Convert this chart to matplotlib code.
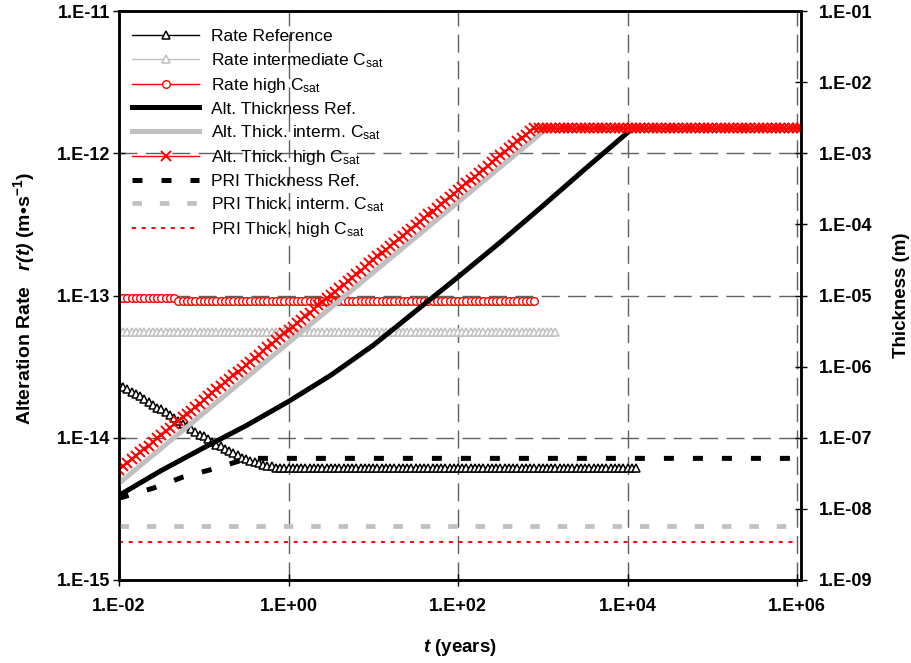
import numpy as np
import matplotlib
matplotlib.use("Agg")
import matplotlib.pyplot as plt
from matplotlib.ticker import FixedLocator, FuncFormatter, NullLocator

plt.rcParams['font.family'] = ['Liberation Sans', 'DejaVu Sans']
plt.rcParams['mathtext.fontset'] = 'custom'
plt.rcParams['mathtext.rm'] = 'Liberation Sans'
plt.rcParams['mathtext.it'] = 'Liberation Sans:italic'
plt.rcParams['mathtext.bf'] = 'Liberation Sans:bold'
plt.rcParams['mathtext.bfit'] = 'Liberation Sans:bold:italic'
plt.rcParams['mathtext.default'] = 'regular'

# output times, log10(years): 0.05 decade steps from 1E-02 to 1E+06, plus the right edge
LOG_T = list(np.round(np.arange(161) * 0.05 - 2.0, 2)) + [6.05]

# alteration rates, log10(m/s)
rate_ref = [-13.62, -13.64, -13.66, -13.68, -13.69, -13.71, -13.73, -13.75, -13.77, -13.79,
            -13.80, -13.82, -13.84, -13.86, -13.88, -13.90, -13.92, -13.94, -13.96, -13.98,
            -13.99, -14.01, -14.03, -14.05, -14.06, -14.08, -14.09, -14.11, -14.12, -14.14,
            -14.15, -14.16, -14.17, -14.18, -14.19, -14.20, -14.20, -14.21, -14.21, -14.21] + [-14.21] * 83
rate_int = [-13.26] * 104
rate_high = [-13.02] * 14 + [-13.04] * 85

# altered thickness, log10(m)
alt_high = [-7.45, -7.40, -7.35, -7.30, -7.25, -7.20, -7.16, -7.11, -7.06, -7.01,
            -6.96, -6.91, -6.86, -6.81, -6.76, -6.71, -6.66, -6.62, -6.57, -6.52,
            -6.47, -6.42, -6.37, -6.32, -6.27, -6.22, -6.17, -6.12, -6.07, -6.03,
            -5.98, -5.93, -5.88, -5.83, -5.78, -5.73, -5.68, -5.63, -5.58, -5.53,
            -5.49, -5.44, -5.39, -5.34, -5.29, -5.24, -5.19, -5.14, -5.09, -5.04,
            -4.99, -4.95, -4.90, -4.85, -4.80, -4.75, -4.70, -4.65, -4.60, -4.55,
            -4.50, -4.45, -4.40, -4.36, -4.31, -4.26, -4.21, -4.16, -4.11, -4.06,
            -4.01, -3.96, -3.91, -3.86, -3.82, -3.77, -3.72, -3.67, -3.62, -3.57,
            -3.52, -3.47, -3.42, -3.37, -3.33, -3.28, -3.23, -3.18, -3.13, -3.08,
            -3.03, -2.98, -2.93, -2.88, -2.83, -2.79, -2.74, -2.69, -2.65] + [-2.65] * 63

alt_int_t = [-2.0, 3.05, 6.05]
alt_int = [-7.64, -2.65, -2.65]

alt_ref_t = [-2.0, -1.5, -1.0, -0.5, 0.0, 0.5, 1.0, 1.5, 2.0, 2.5, 3.0, 3.5, 4.0, 4.06, 6.05]
alt_ref = [-7.81, -7.46, -7.14, -6.83, -6.49, -6.12, -5.70, -5.22, -4.74, -4.25, -3.74, -3.22, -2.71, -2.65, -2.65]

pri_ref_t = [-2.0, -1.6, -1.24, -0.89, -0.48, 6.05]
pri_ref = [-7.85, -7.71, -7.55, -7.44, -7.29, -7.29]
pri_int_t = [-2.0, 6.0]
pri_int = [-8.24, -8.24]
pri_high_t = [-2.0, 6.0]
pri_high = [-8.47, -8.47]

GRAY = '#C0C0C0'
RED = '#FF0000'


def p10(vals):
    return 10 ** np.asarray(vals, dtype=float)


def sci_fmt(v, pos):
    e = int(round(np.log10(v)))
    return f"1.E{e:+03d}"


fig = plt.figure(figsize=(9.12, 6.63), dpi=100)
ax = fig.add_axes([119 / 912, 1 - 580 / 663, (801 - 119) / 912, (580 - 11) / 663])
ax2 = ax.twinx()

for a in (ax, ax2):
    a.set_xscale('log')
    a.set_yscale('log')
ax.set_xlim(1e-2, 10 ** 6.047)
ax.set_ylim(1e-15, 1e-11)
ax2.set_ylim(1e-9, 1e-1)

ax.grid(True, which='major', color='#606060', lw=1.0, linestyle=(0, (13, 6)))

# rates (left axis)
h1, = ax.plot(p10(LOG_T[:123]), p10(rate_ref), color='k', lw=1.0, marker='^', ms=6,
              mfc='white', mec='k', mew=1.1, label='Rate Reference')
h2, = ax.plot(p10(LOG_T[:104]), p10(rate_int), color=GRAY, lw=1.0, marker='^', ms=6,
              mfc='white', mec=GRAY, mew=1.1, label='Rate intermediate C$_{sat}$')
h3, = ax.plot(p10(LOG_T[:99]), p10(rate_high), color=RED, lw=1.0, marker='o', ms=5.5,
              mfc='white', mec=RED, mew=1.0, label='Rate high C$_{sat}$')

# thicknesses (right axis)
h4, = ax2.plot(p10(alt_ref_t), p10(alt_ref), color='k', lw=3.6, label='Alt. Thickness Ref.')
h5, = ax2.plot(p10(alt_int_t), p10(alt_int), color=GRAY, lw=3.6, label='Alt. Thick. interm. C$_{sat}$')
h6, = ax2.plot(p10(LOG_T), p10(alt_high), color=RED, lw=1.0, marker='x', ms=6.5, mew=1.4,
               label='Alt. Thick. high C$_{sat}$')
h7, = ax2.plot(p10(pri_ref_t), p10(pri_ref), color='k', lw=3.6, linestyle=(0, (2.0, 3.8)),
               dash_capstyle='butt', label='PRI Thickness Ref.')
h8, = ax2.plot(p10(pri_int_t), p10(pri_int), color=GRAY, lw=3.4, linestyle=(0, (2.0, 3.8)),
               dash_capstyle='butt', label='PRI Thick. interm. C$_{sat}$')
h9, = ax2.plot(p10(pri_high_t), p10(pri_high), color=RED, lw=1.4, linestyle=(0, (2.06, 2.93)),
               dash_capstyle='butt', label='PRI Thick. high C$_{sat}$')

# axes styling
ax.xaxis.set_major_locator(FixedLocator([1e-2, 1e0, 1e2, 1e4, 1e6]))
ax.xaxis.set_minor_locator(NullLocator())
ax.yaxis.set_major_locator(FixedLocator([1e-15, 1e-14, 1e-13, 1e-12, 1e-11]))
ax.yaxis.set_minor_locator(NullLocator())
ax2.yaxis.set_major_locator(FixedLocator([10.0 ** e for e in range(-9, 0)]))
ax2.yaxis.set_minor_locator(NullLocator())
for axis in (ax.xaxis, ax.yaxis, ax2.yaxis):
    axis.set_major_formatter(FuncFormatter(sci_fmt))

ax.tick_params(axis='x', direction='inout', length=8, width=1, pad=9, labelsize=13)
ax.tick_params(axis='y', direction='inout', length=8, width=1, pad=2, labelsize=13)
ax2.tick_params(axis='y', direction='inout', length=8, width=1, pad=9, labelsize=13)
for a in (ax, ax2):
    for lab in a.get_xticklabels() + a.get_yticklabels():
        lab.set_fontweight('bold')
    for sp in a.spines.values():
        sp.set_linewidth(1.8)

fig.text(24 / 912, 1 - 299 / 663,
         'Alteration Rate   ' + r'$\mathbfit{r(t)}$' + ' (m•s' + r'$^{\mathbf{-1}}$' + ')',
         rotation=90, ha='center', va='center', fontsize=14, fontweight='bold')
fig.text(902 / 912, 1 - 295 / 663, 'Thickness (m)', rotation=90, ha='center', va='center',
         fontsize=13.5, fontweight='bold')
fig.text(460 / 912, 1 - 648 / 663, r'$\mathbfit{t}$ (years)', ha='center', va='center',
         fontsize=13.5, fontweight='bold')

ax2.legend(handles=[h1, h2, h3, h4, h5, h6, h7, h8, h9], loc='upper left',
           bbox_to_anchor=(-5 / 682, 1.0), frameon=False, fontsize=12.5, numpoints=1,
           handlelength=3.85, handletextpad=0.7, labelspacing=0.37,
           borderaxespad=0.65, borderpad=0.4)

fig.savefig('out.png', dpi=100)
